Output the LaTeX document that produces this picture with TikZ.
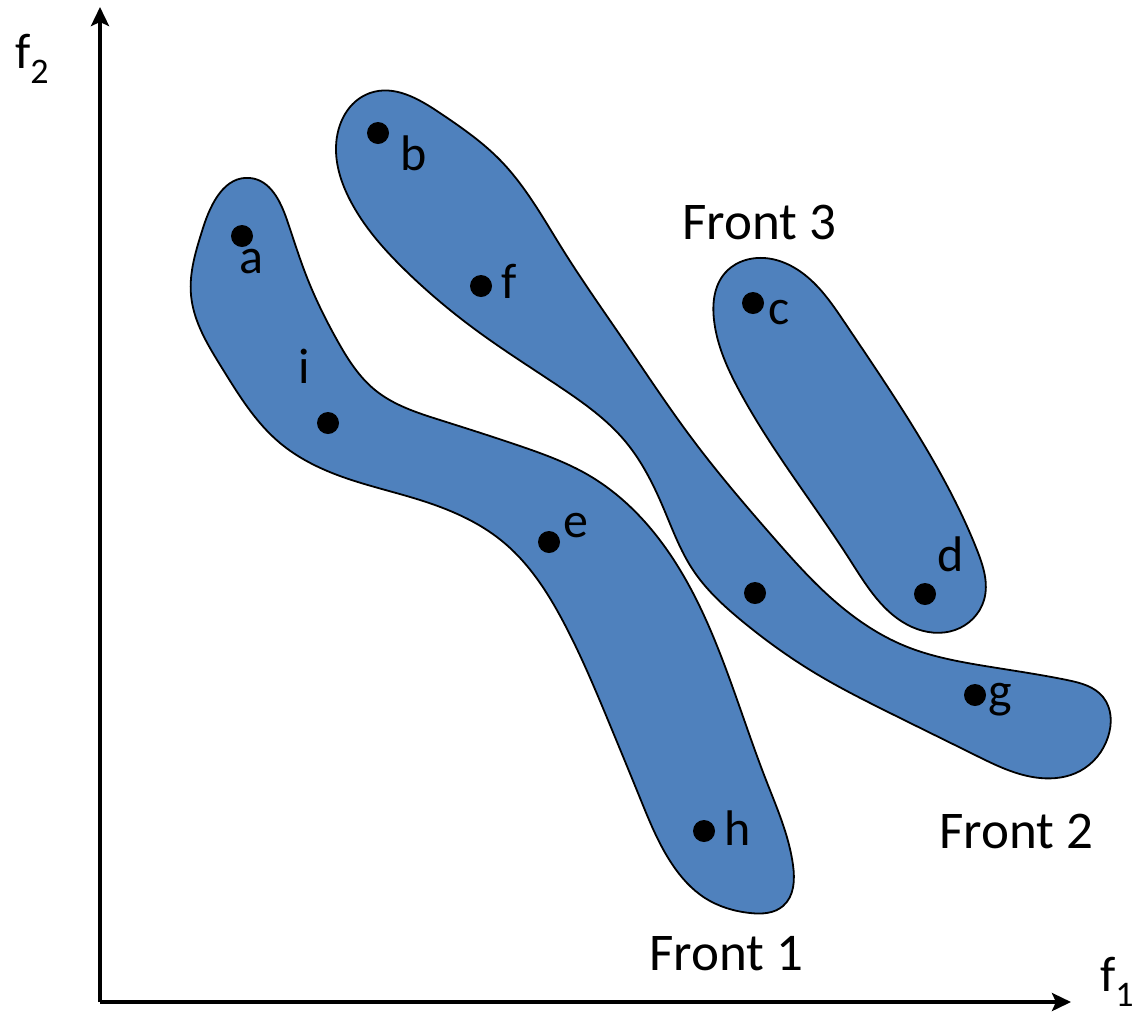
\documentclass[tikz,border=0pt]{standalone}
\usepackage{fontspec}
\setmainfont{Carlito}
\usetikzlibrary{arrows.meta,hobby}
\definecolor{frontblue}{RGB}{79,129,189}
\tikzset{
  blob/.style={fill=frontblue, draw=black, line width=1.8pt, use Hobby shortcut, closed=true},
  dot/.style={circle, fill=black, inner sep=0pt, minimum size=22pt},
  lbl/.style={anchor=base west, inner sep=0pt, font=\fontsize{50}{56}\selectfont},
  frontlbl/.style={anchor=base west, inner sep=0pt, font=\fontsize{53}{60}\selectfont},
  axis/.style={line width=4pt, -{Stealth[length=19pt,width=18pt,inset=4pt]}}
}
\begin{document}
\begin{tikzpicture}[x=1pt,y=-1pt]
\useasboundingbox (0,0) rectangle (1142,1013);
% Front 1
\draw[blob] (250,178) .. (287,220) .. (306,275) .. (337,340) .. (375,390)
 .. (440,420) .. (520,446) .. (590,476) .. (645,522) .. (693,593)
 .. (730,680) .. (766,780) .. (793,865) .. (783,906) .. (750,913)
 .. (705,898) .. (672,864) .. (640,798) .. (610,725) .. (565,625)
 .. (502,541) .. (420,500) .. (340,476) .. (280,443) .. (222,368)
 .. (191,295) .. (203,228);
% Front 2
\draw[blob] (370,93) .. (440,113) .. (500,160) .. (563,250)
 .. (622,338) .. (693,440) .. (773,537) .. (830,597) .. (905,646)
 .. (985,666) .. (1067,680) .. (1103,697) .. (1108,737) .. (1080,771)
 .. (1040,778) .. (975,755) .. (890,713) .. (815,673) .. (742,621)
 .. (693,570) .. (663,507) .. (625,441) .. (560,387) .. (480,333)
 .. (405,270) .. (350,200) .. (336,147);
% Front 3
\draw[blob] (757,258) .. (805,275) .. (845,323) .. (930,455) .. (977,550)
 .. (984,600) .. (955,630) .. (912,627) .. (850,560) .. (790,472)
 .. (740,392) .. (714,320) .. (725,273);
% points
\node[dot] (a) at (242,236) {};
\node[dot] (b) at (378,133) {};
\node[dot] (f) at (481,286) {};
\node[dot] (i) at (328,423) {};
\node[dot] (e) at (549,542) {};
\node[dot] (c) at (753,303) {};
\node[dot] (d) at (925,594) {};
\node[dot] (u) at (755,593) {};
\node[dot] (g) at (975,695) {};
\node[dot] (h) at (704,831) {};
% point labels
\node[lbl] (la) at (239,273) {a};
\node[lbl] (lb) at (400,170) {b};
\node[lbl] (lf) at (501,298) {f};
\node[lbl] (li) at (298,383) {i};
\node[lbl] (lc) at (768,324) {c};
\node[lbl] (ld) at (937,571) {d};
\node[lbl] (le) at (563,537) {e};
\node[lbl] (lh) at (724,845) {h};
\node[lbl] (lg) at (988,707) {g};
% front labels
\node[frontlbl] (F1) at (649,970) {Front 1};
\node[frontlbl] (F2) at (939,848) {Front 2};
\node[frontlbl] (F3) at (682,239) {Front 3};
% axes
\coordinate (O) at (100,1002);
\coordinate (Y) at (100,7);
\coordinate (X) at (1071,1002);
\draw[axis] (O) -- (Y);
\draw[axis] (O) -- (X);
\node[lbl] (f2) at (15,68) {f\raisebox{-0.3em}{\fontsize{36}{40}\selectfont 2}};
\node[lbl] (f1) at (1100,991) {f\raisebox{-0.3em}{\fontsize{36}{40}\selectfont 1}};
\end{tikzpicture}
\end{document}
